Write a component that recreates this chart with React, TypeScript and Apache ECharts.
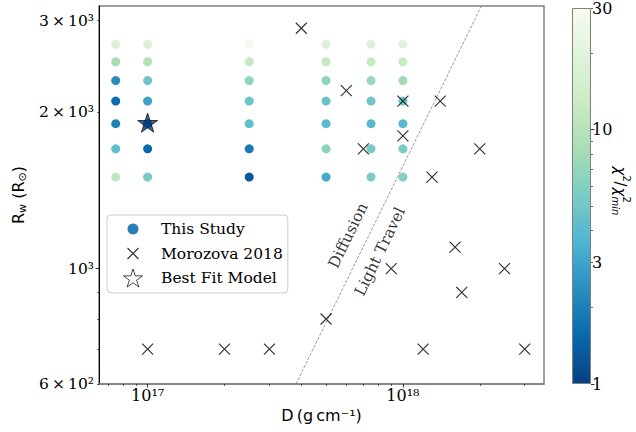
import React, { useEffect, useRef } from "react";
import * as echarts from "echarts";

// ---------- data ----------
const GRID_D = [7.5e16, 1e17, 2.5e17, 5e17, 7.5e17, 1e18];
const GRID_R = [1500, 1700, 1900, 2100, 2300, 2500, 2700];
// chi^2 / chi^2_min for each D column (rows follow GRID_R)
const CHI_D_75E16 = [11, 4.3, 2.0, 1.6, 2.3, 8.4, 16.8];
const CHI_D_1E17 = [5.3, 1.55, 1.0, 2.9, 4.8, 9.5, 17.5];
const CHI_D_25E17 = [1.3, 1.9, 4.3, 4.8, 6.7, 12, 27];
const CHI_D_5E17 = [3.2, 6.3, 4.0, 4.6, 6.7, 11.6, 18.7];
const CHI_D_75E17 = [5.5, 5.3, 3.9, 4.9, 7.2, 12, 18.7];
const CHI_D_1E18 = [5.9, 5.4, 4.0, 4.8, 8, 12.4, 20];
const CHI_COLUMNS = [CHI_D_75E16, CHI_D_1E17, CHI_D_25E17, CHI_D_5E17, CHI_D_75E17, CHI_D_1E18];

const MOROZOVA_D = [4e17, 6e17, 1e18, 1.4e18, 1e18, 7e17, 2e18, 1.3e18, 1.6e18, 9e17, 2.5e18, 1.7e18, 5e17, 1.2e18, 3e18, 1e17, 2e17, 3e17];
const MOROZOVA_R = [2900, 2200, 2100, 2100, 1800, 1700, 1700, 1500, 1100, 1000, 1000, 900, 800, 700, 700, 700, 700, 700];

const BEST_D = [1e17];
const BEST_R = [1900];

const BOUNDARY_D = [3.81e17, 2.03e18];
const BOUNDARY_R = [600, 3200];

const REGION_TEXT = ["Diffusion", "Light Travel"];
const REGION_D = [6.1e17, 8.13e17];
const REGION_R = [1158, 1079];

const X_RANGE = [6.45e16, 3.57e18];
const Y_RANGE = [600, 3200];
const X_MAJOR = [1e17, 1e18];
const X_LABELS = ["10¹⁷", "10¹⁸"];
const X_MINOR = [7e16, 8e16, 9e16, 2e17, 3e17, 4e17, 5e17, 6e17, 7e17, 8e17, 9e17, 2e18, 3e18];
const Y_MAJOR = [1000];
const Y_LABELED = [600, 1000, 2000, 3000];
const Y_LABELS = ["6\u2009×\u200910²", "10³", "2\u2009×\u200910³", "3\u2009×\u200910³"];
const Y_MINOR = [600, 700, 800, 900, 2000, 3000];

const CB_RANGE = [1, 30];
const CB_MAJOR = [1, 10];
const CB_MINOR = [2, 3, 4, 5, 6, 7, 8, 9, 20, 30];
const CB_LABELED = [1, 3, 10, 30];
const CB_LABELS = ["1", "3", "10", "30"];

// GnBu reversed (low -> high)
const GNBU_R = ["#084081", "#0868ac", "#2b8cbe", "#4eb3d3", "#7bccc4", "#a8ddb5", "#ccebc5", "#e0f3db", "#f7fcf0"];

const log = Math.log10;
const SERIF = "DejaVu Serif";
const SANS = "DejaVu Sans";

function nearestLabel(v: number, ticks: number[], labels: string[]) {
  let best = 0;
  ticks.forEach((t, i) => {
    if (Math.abs(log(t) - v) < Math.abs(log(ticks[best]) - v)) best = i;
  });
  return labels[best];
}

function starPoints(cx: number, cy: number, r: number) {
  const pts: string[] = [];
  for (let k = 0; k < 10; k++) {
    const a = (-90 + k * 36) * Math.PI / 180;
    const rr = k % 2 === 0 ? r : r * 0.381966;
    pts.push((cx + rr * Math.cos(a)).toFixed(3) + "," + (cy + rr * Math.sin(a)).toFixed(3));
  }
  return pts.join("L");
}

const STAR_SYMBOL = "path://M0,0M20,20M" + starPoints(10, 10, 10) + "Z";
const CROSS_SYMBOL = "path://M0,0L10,10M10,0L0,10";
// legend icons: 44x20 boxes, shape centred at x=21.5
const LEGEND_CIRCLE = "path://M0,0M44,20M21.5,4.5A5.5,5.5,0,1,1,21.49,4.5Z";
const LEGEND_CROSS = "path://M0,0M44,20M16,4.5L27,15.5M27,4.5L16,15.5";
const LEGEND_STAR = "path://M0,0M44,20M" + starPoints(21.5, 10.5, 10) + "Z";

export default function App() {
  const ref = useRef<HTMLDivElement>(null);
  useEffect(() => {
    document.body.style.margin = "0";
    if (!ref.current) return;
    const chart = echarts.init(ref.current, undefined, { renderer: "svg" });

    const studyData: number[][] = [];
    GRID_D.forEach((d, i) => {
      GRID_R.forEach((r, j) => {
        studyData.push([log(d), log(r), log(CHI_COLUMNS[i][j])]);
      });
    });
    const moroData = MOROZOVA_D.map((d, i) => [log(d), log(MOROZOVA_R[i])]);
    const bestData = BEST_D.map((d, i) => [log(d), log(BEST_R[i])]);
    const boundaryData = BOUNDARY_D.map((d, i) => [log(d), log(BOUNDARY_R[i])]);
    const regionData = REGION_TEXT.map((t, i) => ({ name: t, value: [log(REGION_D[i]), log(REGION_R[i])] }));

    const gradStops = GNBU_R.slice().reverse().map((c, i) => ({ offset: i / (GNBU_R.length - 1), color: c }));

    const option: any = {
      animation: false,
      backgroundColor: "#ffffff",
      grid: [
        { left: 99, right: 92, top: 6, bottom: 48, show: true, borderColor: "#808080", borderWidth: 1.5, backgroundColor: "transparent" },
        { left: 572, width: 19, top: 6, bottom: 48, show: false },
      ],
      xAxis: [
        {
          gridIndex: 0, type: "value", position: "bottom",
          min: log(X_RANGE[0]), max: log(X_RANGE[1]),
          splitLine: { show: false },
          axisLine: { show: true, onZero: false, lineStyle: { color: "#808080", width: 1.5 } },
          axisTick: { show: true, customValues: X_MAJOR.map(log), length: 3.5, lineStyle: { color: "#000", width: 0.8 } },
          axisLabel: {
            show: true, customValues: X_MAJOR.map(log), margin: 3,
            formatter: (v: number) => nearestLabel(v, X_MAJOR, X_LABELS),
            fontFamily: SERIF, fontSize: 16, color: "#000",
          },
          name: "D\u2009(g\u2009cm⁻¹)", nameLocation: "middle", nameGap: 18,
          nameTextStyle: { fontFamily: SANS, fontSize: 16, color: "#000" },
        },
        {
          gridIndex: 0, type: "value", position: "bottom",
          min: log(X_RANGE[0]), max: log(X_RANGE[1]),
          splitLine: { show: false },
          axisLine: { show: false, onZero: false },
          axisTick: { show: true, customValues: X_MINOR.map(log), length: 2, lineStyle: { color: "#000", width: 0.6 } },
          axisLabel: { show: false },
        },
        { gridIndex: 1, type: "category", data: ["cb"], show: false, boundaryGap: true },
      ],
      yAxis: [
        {
          gridIndex: 0, type: "value", position: "left",
          min: log(Y_RANGE[0]), max: log(Y_RANGE[1]),
          splitLine: { show: false },
          axisLine: { show: true, onZero: false, lineStyle: { color: "#000", width: 1 } },
          axisTick: { show: true, customValues: Y_MAJOR.map(log), length: 3.5, lineStyle: { color: "#000", width: 0.8 } },
          axisLabel: {
            show: true, customValues: Y_LABELED.map(log), margin: 5,
            formatter: (v: number) => nearestLabel(v, Y_LABELED, Y_LABELS),
            fontFamily: SERIF, fontSize: 15.5, color: "#000",
          },
          name: "{m|R}{s|w}{m| (R}{s|⊙}{m|)}", nameLocation: "middle", nameGap: 64, nameRotate: 90,
          nameTextStyle: {
            color: "#000",
            rich: {
              m: { fontFamily: SANS, fontSize: 16, lineHeight: 20, color: "#000" },
              s: { fontFamily: SANS, fontSize: 11, lineHeight: 10, verticalAlign: "bottom", color: "#000" },
            },
          },
        },
        {
          gridIndex: 0, type: "value", position: "left",
          min: log(Y_RANGE[0]), max: log(Y_RANGE[1]),
          splitLine: { show: false },
          axisLine: { show: false, onZero: false },
          axisTick: { show: true, customValues: Y_MINOR.map(log), length: 2, lineStyle: { color: "#000", width: 0.6 } },
          axisLabel: { show: false },
        },
        {
          gridIndex: 1, type: "value", position: "right",
          min: log(CB_RANGE[0]), max: log(CB_RANGE[1]),
          splitLine: { show: false },
          axisLine: { show: false, onZero: false },
          axisTick: { show: true, customValues: CB_MAJOR.map(log), length: 3.5, lineStyle: { color: "#000", width: 0.8 } },
          axisLabel: {
            show: true, customValues: CB_LABELED.map(log), margin: 1,
            formatter: (v: number) => nearestLabel(v, CB_LABELED, CB_LABELS),
            fontFamily: SERIF, fontSize: 16, color: "#000",
          },
        },
        {
          gridIndex: 1, type: "value", position: "right",
          min: log(CB_RANGE[0]), max: log(CB_RANGE[1]),
          splitLine: { show: false },
          axisLine: { show: false, onZero: false },
          axisTick: { show: true, customValues: CB_MINOR.map(log), length: 2, lineStyle: { color: "#000", width: 0.6 } },
          axisLabel: { show: false },
        },
      ],
      visualMap: {
        type: "continuous", show: false, seriesIndex: 0, dimension: 2,
        min: log(CB_RANGE[0]), max: log(CB_RANGE[1]),
        inRange: { color: GNBU_R },
      },
      legend: {
        orient: "vertical", left: 107, top: 215,
        padding: [4, 5, 4, 2], itemGap: 2, itemWidth: 45, itemHeight: 20,
        backgroundColor: "rgba(255,255,255,0.8)", borderColor: "#cccccc", borderWidth: 1, borderRadius: 4,
        selectedMode: false,
        textStyle: { fontFamily: SERIF, fontSize: 15.5, color: "#000" },
        data: [
          { name: "This Study", icon: LEGEND_CIRCLE, itemStyle: { color: "#2b7dba", borderWidth: 0 } },
          { name: "Morozova 2018", icon: LEGEND_CROSS, itemStyle: { color: "none", borderColor: "#000", borderWidth: 1.2 } },
          { name: "Best Fit Model", icon: LEGEND_STAR, itemStyle: { color: "#ffffff", borderColor: "#000", borderWidth: 0.9 } },
        ],
      },
      series: [
        {
          name: "This Study", type: "scatter", xAxisIndex: 0, yAxisIndex: 0,
          data: studyData, symbol: "circle", symbolSize: 9, z: 2,
          itemStyle: { color: "#2b7dba", opacity: 1 }, emphasis: { disabled: true },
        },
        {
          name: "Morozova 2018", type: "scatter", xAxisIndex: 0, yAxisIndex: 0,
          data: moroData, symbol: CROSS_SYMBOL, symbolSize: 11, z: 3,
          itemStyle: { color: "none", borderColor: "#000", borderWidth: 1.2 }, emphasis: { disabled: true },
        },
        {
          name: "Best Fit Model", type: "scatter", xAxisIndex: 0, yAxisIndex: 0,
          data: bestData, symbol: STAR_SYMBOL, symbolSize: 21, z: 4,
          itemStyle: { color: "#084081", borderColor: "#000", borderWidth: 0.9 }, emphasis: { disabled: true },
        },
        {
          name: "boundary", type: "line", xAxisIndex: 0, yAxisIndex: 0,
          data: boundaryData, symbol: "none", z: 1, silent: true,
          lineStyle: { color: "#808080", width: 0.8, type: [3, 1.5] },
        },
        {
          name: "regions", type: "scatter", xAxisIndex: 0, yAxisIndex: 0,
          data: regionData, symbolSize: 0, z: 5, silent: true,
          label: {
            show: true, position: "inside", rotate: 64, formatter: "{b}",
            fontFamily: SERIF, fontSize: 15.5, color: "#000",
          },
        },
        {
          name: "colorbar", type: "bar", xAxisIndex: 2, yAxisIndex: 2,
          data: [log(CB_RANGE[1])], barWidth: "100%", silent: true,
          itemStyle: {
            color: new echarts.graphic.LinearGradient(0, 0, 0, 1, gradStops),
            borderColor: "#808080", borderWidth: 1,
          },
        },
      ],
      graphic: [
        {
          type: "group", x: 620, y: 190, rotation: -Math.PI / 2,
          children: [
            { type: "text", x: -23.5, y: 0, style: { text: "χ", font: "italic 15px 'DejaVu Sans'", fill: "#000", textVerticalAlign: "middle" } },
            { type: "text", x: -14.5, y: -6, style: { text: "2", font: "10px 'DejaVu Sans'", fill: "#000", textVerticalAlign: "middle" } },
            { type: "text", x: -8.5, y: 0, style: { text: "/", font: "15px 'DejaVu Sans'", fill: "#000", textVerticalAlign: "middle" } },
            { type: "text", x: -2.5, y: 0, style: { text: "χ", font: "italic 15px 'DejaVu Sans'", fill: "#000", textVerticalAlign: "middle" } },
            { type: "text", x: 6.5, y: -6, style: { text: "2", font: "10px 'DejaVu Sans'", fill: "#000", textVerticalAlign: "middle" } },
            { type: "text", x: 6.5, y: 5, style: { text: "min", font: "italic 10px 'DejaVu Sans'", fill: "#000", textVerticalAlign: "middle" } },
          ],
        },
      ],
    };
    chart.setOption(option);
    return () => chart.dispose();
  }, []);
  return <div ref={ref} style={{ width: 636, height: 432 }} />;
}
